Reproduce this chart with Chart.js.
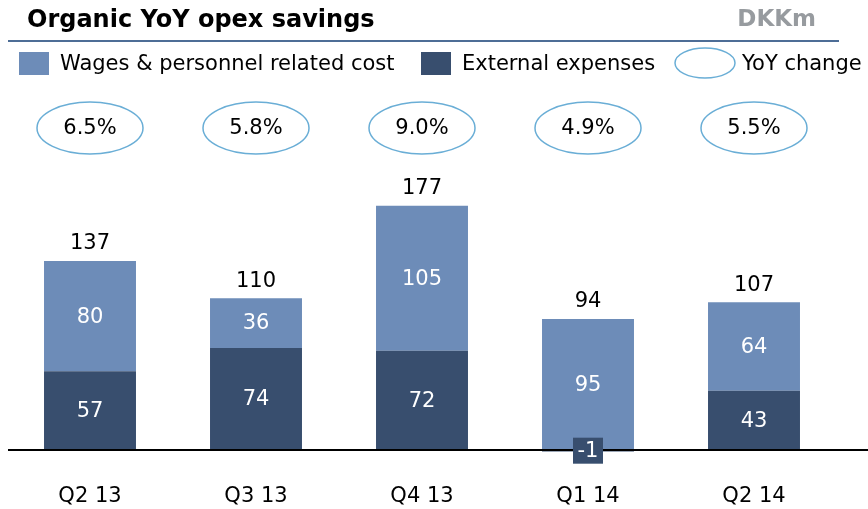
<!DOCTYPE html>
<html>
<head>
<meta charset="utf-8">
<title>Organic YoY opex savings</title>
<script src="https://cdn.jsdelivr.net/npm/chart.js@4"></script>
<style>
    html, body { margin: 0; padding: 0; background: #ffffff; }
    #wrap { position: relative; width: 868px; height: 509px; }
</style>
</head>
<body>
<div id="wrap"><canvas id="opexChart"></canvas></div>
<script>
// Data
const categories = ['Q2 13', 'Q3 13', 'Q4 13', 'Q1 14', 'Q2 14'];
const wagesData = [80, 36, 105, 95, 64];
const externalData = [57, 74, 72, -1, 43];
const totalsData = [137, 110, 177, 94, 107];
const yoyChange = ['6.5%', '5.8%', '9.0%', '4.9%', '5.5%'];

(function() {
    const LIGHT = '#6d8cb8';
    const DARK = '#384e6e';
    const RING = '#6aaed6';
    const FONT = '"DejaVu Sans", Verdana, sans-serif';

    // Title, legend, ellipses, labels and the zero line are drawn on top of the bars
    const decorPlugin = {
        id: 'decor',
        afterDraw(chart) {
            const ctx = chart.ctx;
            const x = chart.scales.x;
            const y = chart.scales.y;
            const zeroY = y.getPixelForValue(0);

            ctx.save();

            // title + unit
            ctx.textBaseline = 'alphabetic';
            ctx.textAlign = 'left';
            ctx.fillStyle = '#000';
            ctx.font = 'bold 24px ' + FONT;
            ctx.fillText('Organic YoY opex savings', 27, 27);
            ctx.fillStyle = '#979b9f';
            ctx.font = 'bold 23px ' + FONT;
            ctx.textAlign = 'right';
            ctx.fillText('DKKm', 816, 26);

            // line under title
            ctx.strokeStyle = '#4d6d96';
            ctx.lineWidth = 2;
            ctx.beginPath();
            ctx.moveTo(8, 41);
            ctx.lineTo(839, 41);
            ctx.stroke();

            // legend
            ctx.textAlign = 'left';
            ctx.textBaseline = 'middle';
            ctx.font = '21px ' + FONT;
            ctx.fillStyle = LIGHT;
            ctx.fillRect(19, 52, 30, 23);
            ctx.fillStyle = '#000';
            ctx.fillText('Wages & personnel related cost', 60, 65);
            ctx.fillStyle = DARK;
            ctx.fillRect(421, 52, 30, 23);
            ctx.fillStyle = '#000';
            ctx.fillText('External expenses', 462, 65);
            ctx.strokeStyle = RING;
            ctx.lineWidth = 1.5;
            ctx.beginPath();
            ctx.ellipse(705, 63, 30, 15, 0, 0, Math.PI * 2);
            ctx.stroke();
            ctx.fillText('YoY change', 742, 65);

            // zero line
            ctx.strokeStyle = '#000';
            ctx.lineWidth = 2;
            ctx.beginPath();
            ctx.moveTo(8, zeroY);
            ctx.lineTo(868, zeroY);
            ctx.stroke();

            const extMeta = chart.getDatasetMeta(0);
            const wagesMeta = chart.getDatasetMeta(1);

            categories.forEach(function(cat, i) {
                const cx = x.getPixelForValue(i);

                // YoY ellipse
                ctx.strokeStyle = RING;
                ctx.lineWidth = 1.5;
                ctx.beginPath();
                ctx.ellipse(cx, 128, 53, 26, 0, 0, Math.PI * 2);
                ctx.stroke();
                ctx.fillStyle = '#000';
                ctx.textAlign = 'center';
                ctx.font = '21px ' + FONT;
                ctx.fillText(yoyChange[i], cx, 129);

                // total above the bar
                const top = Math.min(wagesMeta.data[i].y, extMeta.data[i].y);
                ctx.font = '21px ' + FONT;
                ctx.fillText(String(totalsData[i]), cx, top - 17);

                // segment values
                [[wagesMeta, wagesData], [extMeta, externalData]].forEach(function(pair) {
                    const bar = pair[0].data[i];
                    const v = pair[1][i];
                    const my = (bar.y + bar.base) / 2;
                    if (v < 0) {
                        ctx.fillStyle = DARK;
                        ctx.fillRect(cx - 15, my - 13, 30, 26);
                    }
                    ctx.fillStyle = '#fff';
                    ctx.fillText(String(v), cx, my + 1);
                });

                // category label
                ctx.fillStyle = '#000';
                ctx.font = '21px ' + FONT;
                ctx.fillText(cat, cx, 497);
            });

            ctx.restore();
        }
    };

    document.addEventListener('DOMContentLoaded', function() {
        const canvas = document.getElementById('opexChart');
        new Chart(canvas.getContext('2d'), {
            type: 'bar',
            data: {
                labels: categories,
                datasets: [
                    {
                        label: 'External expenses',
                        data: externalData,
                        backgroundColor: DARK,
                        barPercentage: 0.554,
                        categoryPercentage: 1
                    },
                    {
                        label: 'Wages & personnel related cost',
                        data: wagesData,
                        backgroundColor: LIGHT,
                        barPercentage: 0.554,
                        categoryPercentage: 1
                    }
                ]
            },
            options: {
                responsive: true,
                maintainAspectRatio: false,
                animation: false,
                layout: { padding: { left: 7, right: 31, top: 201.6, bottom: 45.2 } },
                plugins: {
                    legend: { display: false },
                    tooltip: { enabled: false }
                },
                scales: {
                    x: { stacked: true, display: false },
                    y: { stacked: true, display: false, min: -10, max: 180 }
                }
            },
            plugins: [decorPlugin]
        });
    });
})();
</script>
</body>
</html>
